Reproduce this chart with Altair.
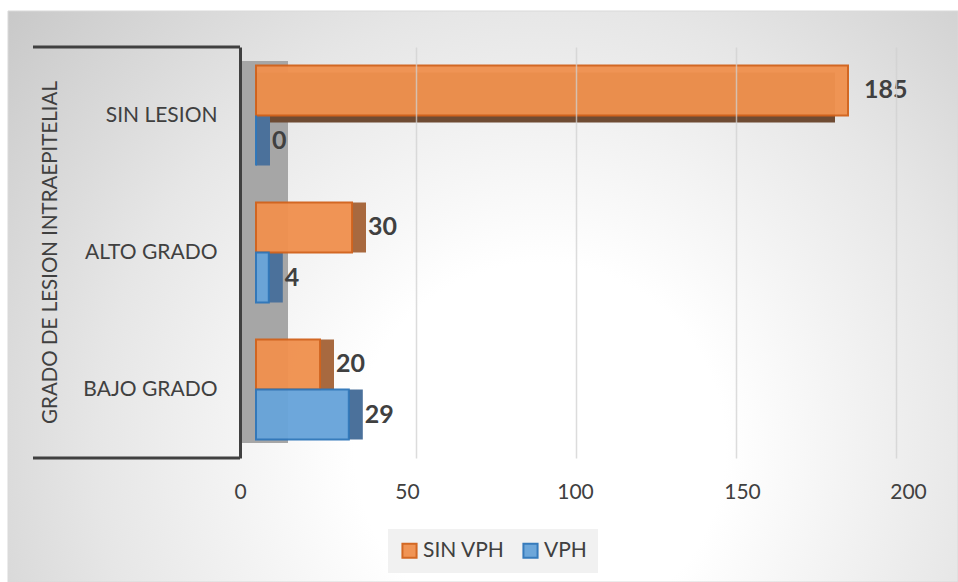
import altair as alt
import pandas as pd

# ---- data -----------------------------------------------------------------
categories = ["SIN LESION", "ALTO GRADO", "BAJO GRADO"]
series = ["SIN VPH", "VPH"]
sin_vph = [185, 30, 20]
vph = [0, 4, 29]
x_ticks = [0, 50, 100, 150, 200]

# ---- styling --------------------------------------------------------------
fills = ["#F0914F", "#68A4DA"]
strokes = ["#D2631C", "#2F77BA"]
sides = ["#A8693F", "#4B719B"]
FONT = "Lato"
INK = "#404040"
FS = 21
W, H = 640, 411

rows = []
for cat, a, b in zip(categories, sin_vph, vph):
    rows.append({"grado": cat, "serie": series[0], "n": a})
    rows.append({"grado": cat, "serie": series[1], "n": b})
df = pd.DataFrame(rows)

# tick labels sit on the front edge of the floor, which is slightly wider
# than the plane of the bars
label_shift = {
    "condition": [
        {"test": "datum.value === 0", "value": -16},
        {"test": "datum.value === 50", "value": -9},
        {"test": "datum.value === 150", "value": 6},
        {"test": "datum.value === 200", "value": 12},
    ],
    "value": -1,
}
grid_opacity = {"condition": {"test": "datum.value === 0", "value": 0}, "value": 0.75}

x_enc = alt.X(
    "n:Q",
    scale=alt.Scale(domain=[0, 200], nice=False, zero=True),
    axis=alt.Axis(
        values=x_ticks, domain=False, ticks=False, tickSize=0,
        grid=True, gridColor="#D0D0D0", gridWidth=1.5, gridOpacity=grid_opacity,
        labelFont=FONT, labelFontSize=FS, labelColor=INK, labelPadding=23,
        labelOffset=label_shift, labelFlush=False,
        title=None, zindex=1,
    ),
)
y_enc = alt.Y(
    "grado:N",
    sort=categories,
    scale=alt.Scale(domain=categories, paddingInner=0.27, paddingOuter=0.135),
    axis=alt.Axis(
        offset=16, domain=True, domainColor=INK, domainWidth=3,
        ticks=False, tickSize=0, grid=False,
        labelFont=FONT, labelFontSize=FS, labelColor=INK, labelPadding=23,
        title="GRADO DE LESION INTRAEPITELIAL",
        titleFont=FONT, titleFontSize=20.5, titleFontWeight="normal", titleColor=INK,
        titleAngle=-90, titleAlign="center", titleBaseline="middle",
        titleX=-190, titleY=205, zindex=1,
    ),
)
yoff_enc = alt.YOffset("serie:N", sort=series,
                       scale=alt.Scale(type="band", domain=series,
                                       paddingInner=0, paddingOuter=0))

base = alt.Chart(df).encode(x=x_enc, y=y_enc, yOffset=yoff_enc)

# chart-area background with a soft radial shading
background = alt.Chart(alt.Data(values=[{}])).mark_rect(
    fill=alt.RadialGradient(
        gradient="radial", x1=0.56, y1=0.66, r1=0, x2=0.56, y2=0.66, r2=0.78,
        stops=[alt.GradientStop(color="#FFFFFF", offset=0),
               alt.GradientStop(color="#FFFFFF", offset=0.25),
               alt.GradientStop(color="#E6E6E6", offset=0.6),
               alt.GradientStop(color="#C2C2C2", offset=1)],
    ),
    stroke="#D9D9D9", strokeWidth=1,
).encode(x=alt.value(-248), x2=alt.value(702), y=alt.value(-36), y2=alt.value(535))

# side wall behind the bars
wall = alt.Chart(alt.Data(values=[{}])).mark_rect(fill="#A6A6A6").encode(
    x=alt.value(-16), x2=alt.value(32), y=alt.value(14), y2=alt.value(396)
)

# top and bottom edges of the category axis panel
edge_top = alt.Chart(alt.Data(values=[{}])).mark_rule(color=INK, strokeWidth=3).encode(
    x=alt.value(-223), x2=alt.value(-16), y=alt.value(0)
)
edge_bottom = alt.Chart(alt.Data(values=[{}])).mark_rule(color=INK, strokeWidth=3).encode(
    x=alt.value(-223), x2=alt.value(-16), y=alt.value(H)
)

# darker end faces that give the short bars some depth
side_faces = base.transform_filter("datum.n < 100").mark_bar(x2Offset=14).encode(
    x2="n:Q",
    fill=alt.condition("datum.serie == 'SIN VPH'", alt.value(sides[0]), alt.value(sides[1])),
)

# shadowed underside of the long bar, peeking out below its front face
underside = base.transform_filter("datum.n >= 100").mark_bar(
    fill="#6E4B33", xOffset=-13
).encode(
    x2=alt.datum(0),
    yOffset=alt.YOffset("serie:N", sort=series,
                        scale=alt.Scale(type="band", domain=series, range=[7, 107],
                                        paddingInner=0, paddingOuter=0)),
)

legend_cfg = dict(
    orient="none", legendX=132, legendY=482, direction="horizontal", title=None,
    labelFont=FONT, labelFontSize=FS, labelColor=INK, labelOffset=3,
    symbolType="square", symbolSize=200, symbolStrokeWidth=2,
    columnPadding=14, padding=11, fillColor="#F1F1F1",
)

bars = base.mark_bar(strokeWidth=2, opacity=0.96).encode(
    x2=alt.datum(0),
    fill=alt.Fill("serie:N", sort=series,
                  scale=alt.Scale(domain=series, range=fills),
                  legend=alt.Legend(**legend_cfg)),
    stroke=alt.Stroke("serie:N", sort=series,
                      scale=alt.Scale(domain=series, range=strokes),
                      legend=alt.Legend(**legend_cfg)),
)

labels = base.mark_text(
    align="left", baseline="middle", dx=16,
    font=FONT, fontSize=25, fontWeight="bold", color=INK,
).encode(text="n:Q")

chart = alt.layer(
    background, wall, edge_top, edge_bottom, underside, side_faces, bars, labels
).resolve_scale(
    yOffset="independent"
).properties(
    width=W, height=H,
    autosize=alt.AutoSizeParams(type="none"),
    padding={"left": 256, "top": 47, "right": 62, "bottom": 124},
    background="#FFFFFF",
).configure_view(stroke=None)

chart.save("out.html", embed_options={"renderer": "svg", "actions": False})
